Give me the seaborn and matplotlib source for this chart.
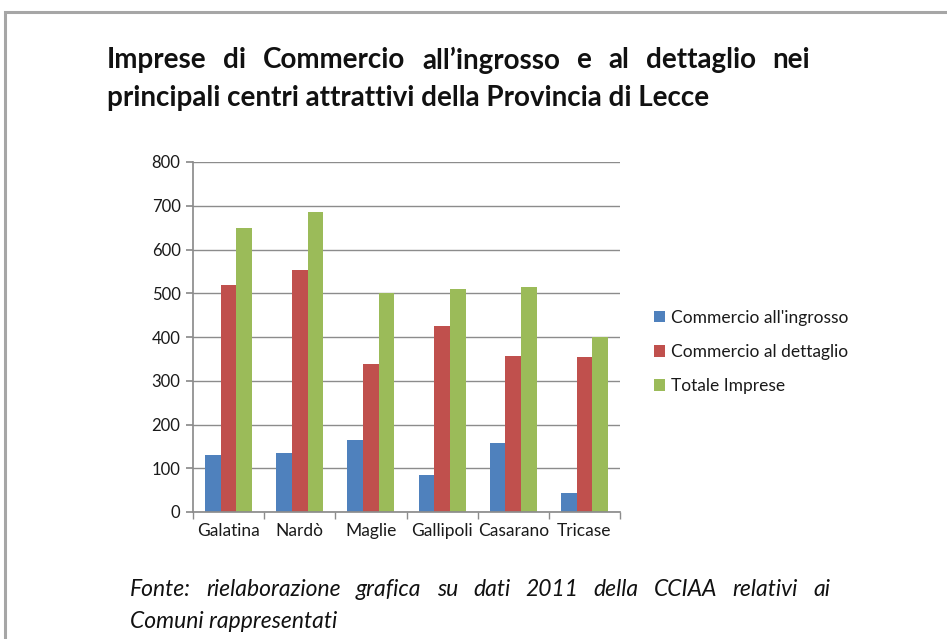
import matplotlib
matplotlib.use("Agg")
import matplotlib.pyplot as plt
import seaborn as sns
import pandas as pd
from matplotlib.patches import Rectangle

comuni = ["Galatina", "Nardò", "Maglie", "Gallipoli", "Casarano", "Tricase"]
ingrosso = [131, 134, 164, 84, 157, 43]
dettaglio = [519, 553, 338, 426, 356, 354]
totale = [649, 686, 500, 509, 515, 400]
serie = ["Commercio all'ingrosso", "Commercio al dettaglio", "Totale Imprese"]
colori = ["#4F81BD", "#C0504D", "#9BBB59"]

rows = []
for nome, vals in zip(serie, [ingrosso, dettaglio, totale]):
    for c, v in zip(comuni, vals):
        rows.append({"Comune": c, "Serie": nome, "Valore": v})
df = pd.DataFrame(rows)

sns.set_theme(style="white")
plt.rcParams['font.family'] = ['Lato', 'DejaVu Sans']

W, H = 947, 639
fig = plt.figure(figsize=(W / 100, H / 100), dpi=100)
fig.patch.set_facecolor("white")

# outer frame
fig.patches.append(Rectangle((5 / W, -0.1), 1.2, 1 - 12 / H + 0.1, transform=fig.transFigure,
                             fill=False, edgecolor="#A6A6A6", linewidth=2.2, zorder=0))

ax = fig.add_axes([193 / W, (H - 512) / H, (620 - 193) / W, 350 / H])
sns.barplot(data=df, x="Comune", y="Valore", hue="Serie", palette=colori,
            width=0.66, ax=ax, saturation=1, legend=True, linewidth=0)

ax.set_ylim(0, 800)
ax.set_xlim(-0.5, 5.5)
ax.set_yticks(range(0, 801, 100))
ax.yaxis.grid(True, color="#8C8C8C", linewidth=1)
ax.set_axisbelow(True)
for s in ["top", "right"]:
    ax.spines[s].set_visible(False)
ax.spines["left"].set_color("#8C8C8C")
ax.spines["bottom"].set_color("#8C8C8C")
ax.set_xlabel("")
ax.set_ylabel("")
ax.tick_params(axis="y", length=5, color="#8C8C8C", labelsize=12, pad=4, labelcolor="#1a1a1a", left=True)
ax.tick_params(axis="x", which="major", length=0, labelsize=12.5, pad=8, labelcolor="#1a1a1a")
ax.set_xticks([i - 0.5 for i in range(7)], minor=True)
ax.tick_params(axis="x", which="minor", length=5, color="#8C8C8C", bottom=True)

leg = ax.legend(loc="upper left", bbox_to_anchor=(638 / W, 1 - 294 / H), bbox_transform=fig.transFigure,
                frameon=False, fontsize=12.5, handlelength=0.65, handleheight=0.65,
                handletextpad=0.35, labelspacing=1.05)
for t in leg.get_texts():
    t.set_color("#1a1a1a")

renderer = fig.canvas.get_renderer()


def justified(x0, x1, y, text, **kw):
    words = text.split(" ")
    objs = [fig.text(0, 1 - y / H, w, va="center", ha="left", **kw) for w in words]
    widths = [o.get_window_extent(renderer).width for o in objs]
    gap = (x1 - x0 - sum(widths)) / (len(words) - 1)
    x = x0
    for o, wd in zip(objs, widths):
        o.set_x(x / W)
        x += wd + gap


title_kw = dict(fontsize=20, fontweight="bold", color="#111111")
justified(107, 810, 60, "Imprese di Commercio all’ingrosso e al dettaglio nei", **title_kw)
fig.text(107 / W, 1 - 98 / H, "principali centri attrattivi della Provincia di Lecce",
         va="center", ha="left", **title_kw)

foot_kw = dict(fontsize=16.5, style="italic", color="#111111")
justified(130, 830, 590, "Fonte: rielaborazione grafica su dati 2011 della CCIAA relativi ai", **foot_kw)
fig.text(130 / W, 1 - 622 / H, "Comuni rappresentati", va="center", ha="left", **foot_kw)

fig.savefig("out.png", dpi=100)
